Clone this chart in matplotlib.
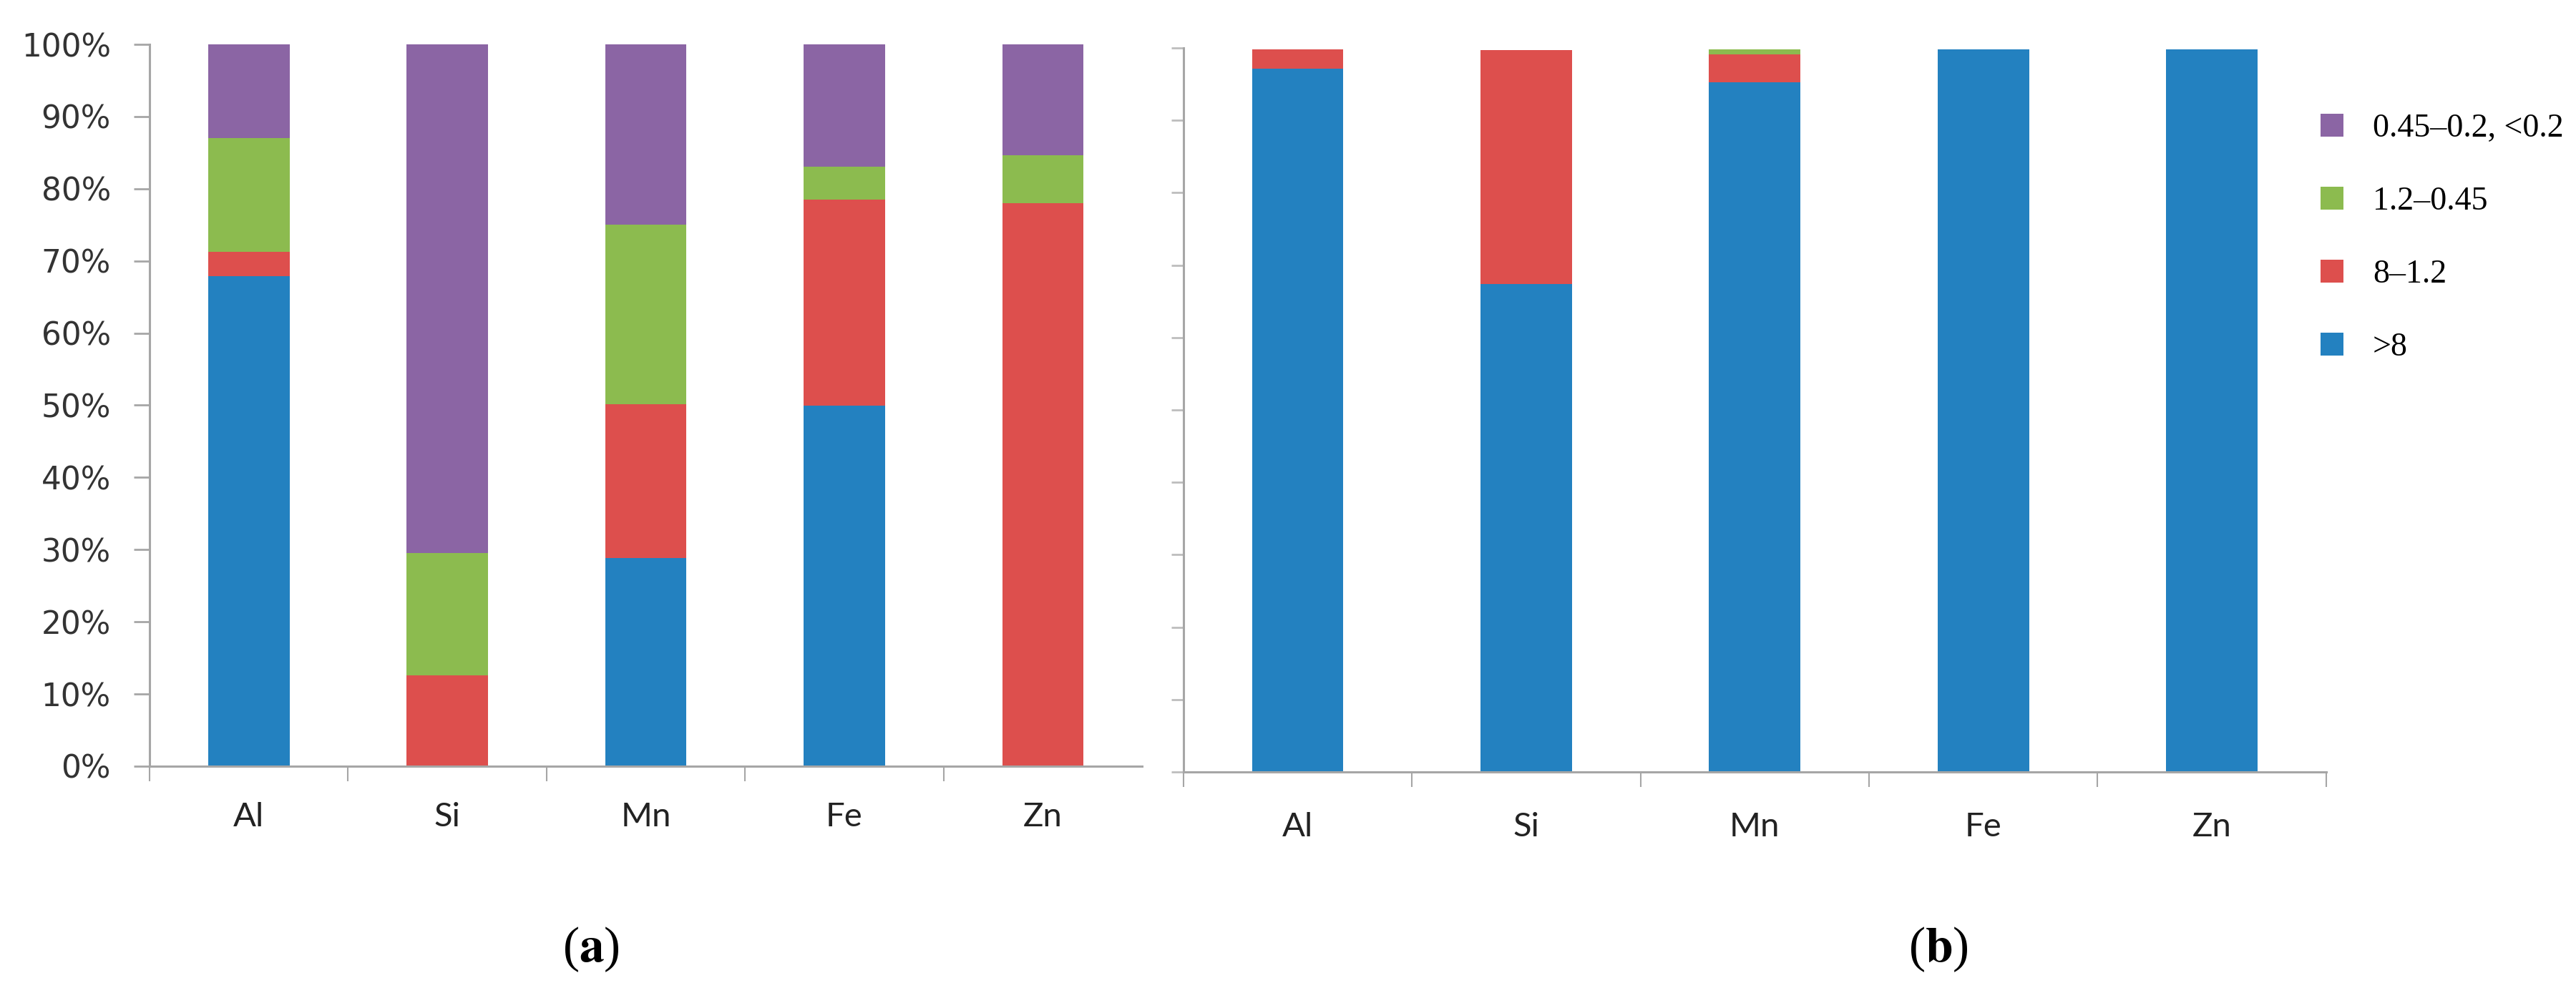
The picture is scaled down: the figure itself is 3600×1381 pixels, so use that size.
import matplotlib
matplotlib.use("Agg")
import matplotlib.pyplot as plt
import numpy as np

# categorias (elementos) e frações (%) por faixa de tamanho
elementos = ["Al", "Si", "Mn", "Fe", "Zn"]
faixas = [">8", "8\u20131.2", "1.2\u20130.45", "0.45\u20130.2, <0.2"]

# (a)
a_maior8 = [67.9, 0.0, 28.8, 49.9, 0.0]
a_8_12 = [3.4, 12.6, 21.3, 28.6, 78.0]
a_12_045 = [15.7, 16.9, 24.9, 4.6, 6.6]
a_045_02 = [13.0, 70.5, 25.0, 16.9, 15.4]

# (b)
b_maior8 = [97.1, 67.4, 95.3, 99.8, 99.8]
b_8_12 = [2.7, 32.3, 3.8, 0.0, 0.0]
b_12_045 = [0.0, 0.0, 0.7, 0.0, 0.0]
b_045_02 = [0.0, 0.0, 0.0, 0.0, 0.0]

cores = ["#2381C0", "#DD4F4D", "#8CBB4F", "#8B65A4"]
cinza = "#A6A6A6"

plt.rcParams["mathtext.fontset"] = "stix"

fig = plt.figure(figsize=(36, 13.81), dpi=100)
ax_a = fig.add_axes([0.05806, 0.2245, 0.3853, 0.7306])
ax_b = fig.add_axes([0.4594, 0.2187, 0.4436, 0.7328])

x = np.arange(len(elementos))


def empilhar(ax, series, largura):
    base = np.zeros(len(elementos))
    barras = []
    for valores, cor in zip(series, cores):
        b = ax.bar(x, valores, largura, bottom=base, color=cor, linewidth=0)
        barras.append(b)
        base += np.array(valores)
    return barras


def estilo(ax, pad_x, tick_y, fim):
    ax.set_xlim(-0.5, len(elementos) - 0.5)
    ax.set_ylim(0, 100)
    for s in ["top", "right"]:
        ax.spines[s].set_visible(False)
    for s in ["left", "bottom"]:
        ax.spines[s].set_color(cinza)
        ax.spines[s].set_linewidth(2.2)
    ax.set_xticks(x)
    ax.set_xticklabels(elementos, family=["Lato", "DejaVu Sans"],
                       fontsize=34, color="#222222")
    ax.set_xticks(np.arange(-0.5, fim), minor=True)
    ax.tick_params(axis="x", which="major", length=0, pad=pad_x)
    ax.tick_params(axis="x", which="minor", length=15, width=1.5, color=cinza)
    ax.set_yticks(np.arange(0, 101, 10))
    ax.tick_params(axis="y", length=tick_y, width=2, color=cinza)


barras_a = empilhar(ax_a, [a_maior8, a_8_12, a_12_045, a_045_02], 0.41)
estilo(ax_a, 36, 16, len(elementos) - 0.5)
ax_a.set_yticklabels([f"{v}%" for v in range(0, 101, 10)], fontsize=31.5,
                     color="#333333", family="DejaVu Sans")
ax_a.tick_params(axis="y", pad=23)

barras_b = empilhar(ax_b, [b_maior8, b_8_12, b_12_045, b_045_02], 0.40)
estilo(ax_b, 40, 12, len(elementos) + 0.5)
ax_b.set_yticklabels([])
ax_b.tick_params(axis="y", color="#BDBDBD")

# legenda (ordem invertida: do topo para baixo)
fig.legend([barras_b[i][0] for i in [3, 2, 1, 0]], [faixas[i] for i in [3, 2, 1, 0]],
           loc="upper left", bbox_to_anchor=(3225 / 3600, 1 - 140 / 1381),
           frameon=False, prop={"family": "Liberation Serif", "size": 33},
           handlelength=0.68, handleheight=0.68, handletextpad=0.9,
           labelspacing=1.3, borderaxespad=0)

# rótulos (a) e (b)
fig.text(826 / 3600, 1 - 1327 / 1381, r"($\mathbf{a}$)", ha="center", va="center",
         fontsize=50, family="Liberation Serif")
fig.text(2709 / 3600, 1 - 1327 / 1381, r"($\mathbf{b}$)", ha="center", va="center",
         fontsize=50, family="Liberation Serif")

fig.savefig("out.png", dpi=100, facecolor="white")
